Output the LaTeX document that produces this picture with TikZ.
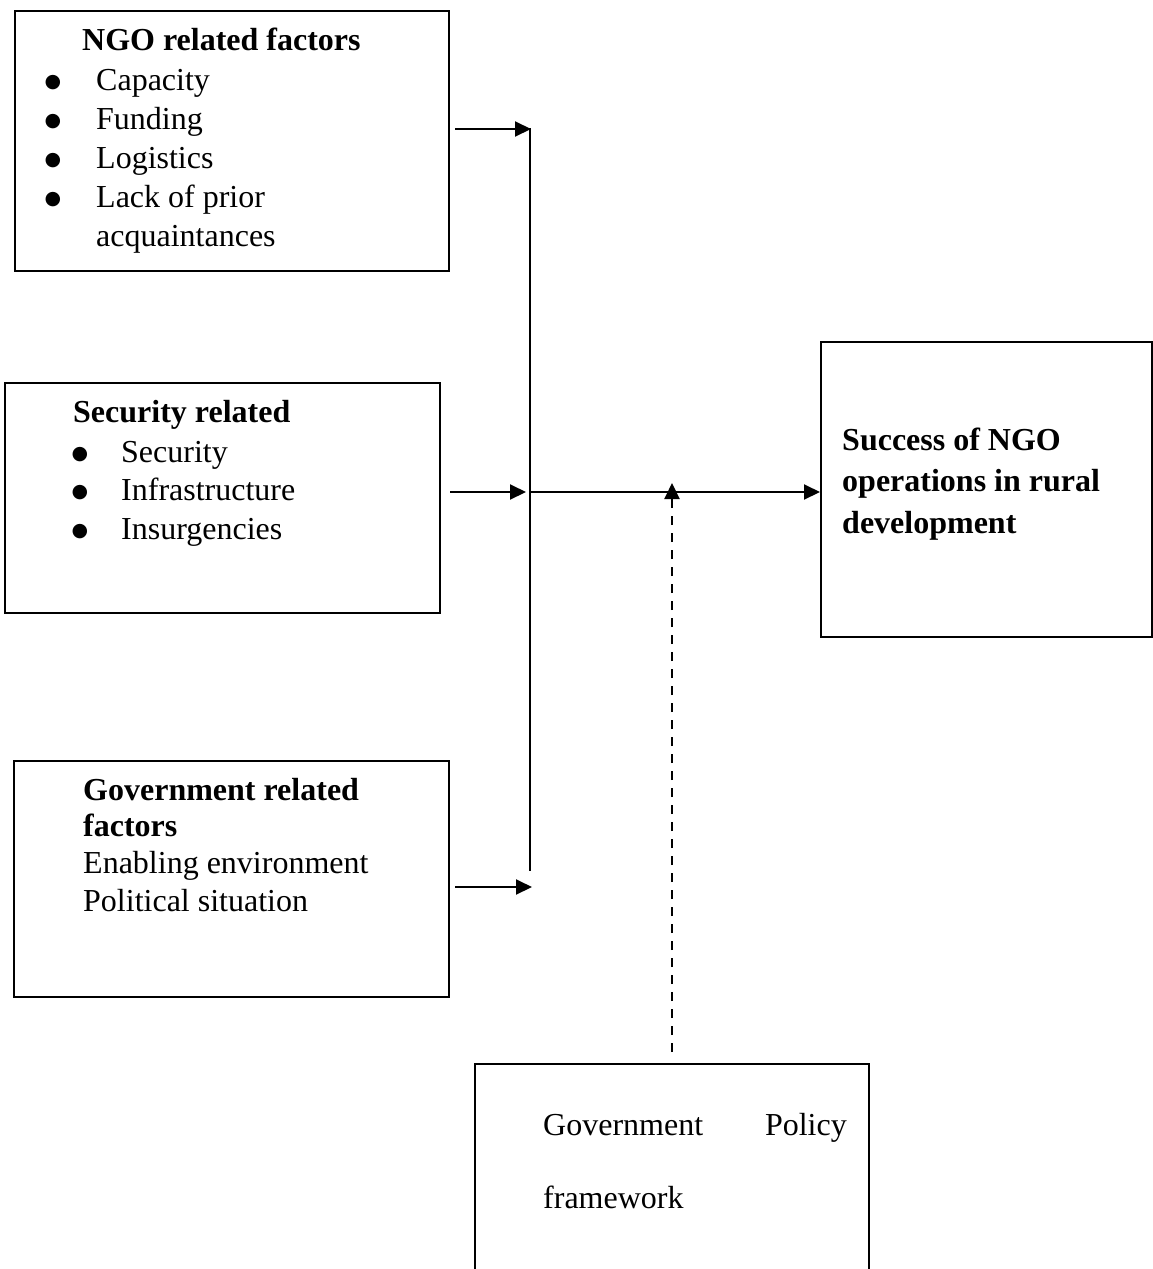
\documentclass[tikz,border=0pt]{standalone}
\usepackage{fontspec}
\setmainfont{Liberation Serif}
\newfontfamily\bulfont{DejaVu Sans}
\usetikzlibrary{arrows.meta}
\tikzset{
  box/.style={draw, line width=2pt, rectangle, anchor=north west, inner sep=0pt},
  txt/.style={anchor=base west, inner sep=0pt, font=\fontsize{32}{38}\selectfont},
  btxt/.style={txt, font=\fontsize{32}{38}\selectfont\bfseries},
  bul/.style={anchor=base, inner sep=0pt, yshift=3pt, font=\bulfont\fontsize{19}{22}\selectfont},
  conn/.style={line width=2pt, -{Triangle[length=16pt,width=15pt]}},
  plain/.style={line width=2pt},
  dconn/.style={line width=2pt, dash pattern=on 9pt off 8pt, -{Triangle[length=16pt,width=15pt]}}
}
\begin{document}
\begin{tikzpicture}[x=1pt,y=-1pt]
\useasboundingbox (0,0) rectangle (1152,1269);

% boxes
\node[box, minimum width=434pt, minimum height=260pt] (ngo) at (14,10) {};
\node[box, minimum width=435pt, minimum height=230pt] (sec) at (4,382) {};
\node[box, minimum width=435pt, minimum height=236pt] (gov) at (13,760) {};
\node[box, minimum width=331pt, minimum height=295pt] (succ) at (820,341) {};
\node[box, minimum width=394pt, minimum height=300pt] (pol) at (474,1063) {};

% NGO text
\node[btxt] (ngoh) at (82,50) {NGO related factors};
\node[bul] (b1) at (53,90) {●};
\node[txt] (t1) at (96,90) {Capacity};
\node[bul] (b2) at (53,129) {●};
\node[txt] (t2) at (96,129) {Funding};
\node[bul] (b3) at (53,168) {●};
\node[txt] (t3) at (96,168) {Logistics};
\node[bul] (b4) at (53,207) {●};
\node[txt] (t4) at (96,207) {Lack of prior};
\node[txt] (t5) at (96,246) {acquaintances};

% Security text
\node[btxt] (sech) at (73,422) {Security related};
\node[bul] (b5) at (80,462) {●};
\node[txt] (s1) at (121,462) {Security};
\node[bul] (b6) at (80,500) {●};
\node[txt] (s2) at (121,500) {Infrastructure};
\node[bul] (b7) at (80,539) {●};
\node[txt] (s3) at (121,539) {Insurgencies};

% Government text
\node[btxt] (govh1) at (83,800) {Government related};
\node[btxt] (govh2) at (83,836) {factors};
\node[txt] (g1) at (83,873) {Enabling environment};
\node[txt] (g2) at (83,911) {Political situation};

% Success text
\node[btxt] (su1) at (842,450) {Success of NGO};
\node[btxt] (su2) at (842,491) {operations in rural};
\node[btxt] (su3) at (842,533) {development};

% Policy text
\node[txt] (p1) at (543,1135) {Government};
\node[txt, anchor=base east] (p2) at (847,1135) {Policy};
\node[txt] (p3) at (543,1208) {framework};

% connector coordinates
\coordinate (vtop) at (530,128);
\coordinate (vbot) at (530,871);
\coordinate (a1s) at (455,129);
\coordinate (a1e) at (531,129);
\coordinate (a2s) at (450,492);
\coordinate (a2e) at (526,492);
\coordinate (a3s) at (455,887);
\coordinate (a3e) at (532,887);
\coordinate (mid) at (530,492);
\coordinate (ds) at (672,1052);
\coordinate (de) at (672,483);

\draw[plain] (vtop) -- (vbot);
\draw[conn] (a1s) -- (a1e);
\draw[conn] (a2s) -- (a2e);
\draw[conn] (a3s) -- (a3e);
\draw[conn] (mid) -- (succ.west |- mid);
\draw[dconn] (ds) -- (de);
\end{tikzpicture}
\end{document}
